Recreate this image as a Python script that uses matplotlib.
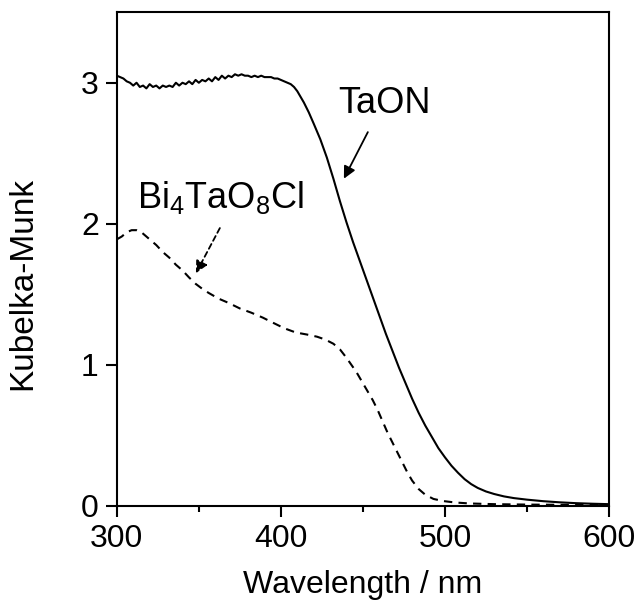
import matplotlib
matplotlib.use("Agg")
import matplotlib.pyplot as plt

plt.rcParams['font.family'] = ['Liberation Sans', 'DejaVu Sans']
plt.rcParams['mathtext.fontset'] = 'custom'
plt.rcParams['mathtext.rm'] = 'Liberation Sans'
plt.rcParams['mathtext.it'] = 'Liberation Sans'

# TaON (solid)
taon_wl = [300, 302, 304, 306, 308, 310, 312, 314, 316, 318, 320, 322, 324, 326, 328, 330,
           332, 334, 336, 338, 340, 342, 344, 346, 348, 350, 352, 354, 356, 358, 360, 362,
           364, 366, 368, 370, 372, 374, 376, 378, 380, 382, 384, 386, 388, 390, 392, 394,
           396, 398, 400, 402, 404, 406, 408, 410, 412, 414, 417, 420, 424, 428, 432, 436,
           440, 444, 448, 452, 456, 460, 464, 468, 472, 476, 480, 484, 488, 492, 496, 500,
           504, 508, 512, 516, 520, 525, 530, 536, 542, 550, 560, 570, 580, 590, 600]
taon_km = [3.05, 3.04, 3.03, 3.01, 3.00, 2.98, 3.00, 2.97, 2.98, 2.96, 2.99, 2.97, 2.98, 2.96, 2.98, 2.97,
           2.98, 2.97, 3.00, 2.98, 3.00, 2.99, 3.01, 2.99, 3.02, 3.00, 3.02, 3.01, 3.03, 3.01, 3.04, 3.02,
           3.05, 3.03, 3.05, 3.04, 3.06, 3.05, 3.06, 3.05, 3.05, 3.04, 3.05, 3.04, 3.05, 3.04, 3.04, 3.04,
           3.03, 3.03, 3.02, 3.01, 3.00, 2.99, 2.97, 2.94, 2.90, 2.86, 2.79, 2.71, 2.60, 2.47, 2.32, 2.16,
           2.01, 1.87, 1.74, 1.61, 1.48, 1.35, 1.22, 1.10, 0.98, 0.87, 0.76, 0.66, 0.57, 0.49, 0.41, 0.345,
           0.285, 0.235, 0.19, 0.155, 0.128, 0.103, 0.085, 0.068, 0.056, 0.045, 0.034, 0.026, 0.02, 0.016, 0.013]

# Bi4TaO8Cl (dashed)
bi_wl = [300, 303, 306, 309, 312, 315, 318, 321, 324, 328, 332, 336, 340, 344, 348, 352, 356,
         362, 368, 375, 382, 389, 395, 402, 409, 416, 422, 427, 432, 436, 440, 443, 446, 449,
         452, 456, 459, 462, 465, 468, 471, 474, 477, 480, 484, 488, 493, 499, 506, 515, 530,
         550, 575, 600]
bi_km = [1.89, 1.91, 1.94, 1.955, 1.955, 1.94, 1.91, 1.88, 1.85, 1.80, 1.76, 1.71, 1.67, 1.62,
         1.575, 1.54, 1.51, 1.47, 1.44, 1.40, 1.37, 1.335, 1.30, 1.26, 1.23, 1.215, 1.20, 1.18,
         1.15, 1.11, 1.05, 1.00, 0.95, 0.89, 0.83, 0.75, 0.68, 0.60, 0.52, 0.45, 0.38, 0.31,
         0.24, 0.18, 0.12, 0.08, 0.05, 0.035, 0.025, 0.018, 0.013, 0.01, 0.008, 0.007]

x_ticks = [300, 400, 500, 600]
x_minor = [350, 450, 550]
y_ticks = [0, 1, 2, 3]

fig = plt.figure(figsize=(6.42, 6.10), dpi=100)
ax = fig.add_axes([0.182, 0.1705, 0.7666, 0.8095])

ax.plot(taon_wl, taon_km, color='black', lw=1.5)
ax.plot(bi_wl, bi_km, color='black', lw=1.5, linestyle=(0, (4, 3)))

ax.set_xlim(300, 600)
ax.set_ylim(0, 3.5)
ax.set_xticks(x_ticks)
ax.set_xticks(x_minor, minor=True)
ax.set_yticks(y_ticks)

for s in ax.spines.values():
    s.set_linewidth(1.5)
ax.tick_params(axis='both', which='major', direction='out', length=8, width=1.5,
               labelsize=23, pad=5)
ax.tick_params(axis='x', which='minor', direction='out', length=4.5, width=1.5)

ax.set_xlabel('Wavelength / nm', fontsize=23)
ax.set_ylabel('Kubelka-Munk', fontsize=24)
ax.yaxis.set_label_coords(-0.16, 0.45)
ax.xaxis.set_label_coords(0.5, -0.13)

ax.text(463, 2.85, 'TaON', fontsize=26, ha='center', va='center')
ax.annotate('', xy=(438.4, 2.32), xytext=(453, 2.65),
            arrowprops=dict(arrowstyle='-|>', color='black', lw=1.3,
                            mutation_scale=18, shrinkA=0, shrinkB=0))

ax.text(363.4, 2.19, r'Bi$_4$TaO$_8$Cl', fontsize=26, ha='center', va='center')
ax.annotate('', xy=(348.2, 1.65), xytext=(362.8, 1.97),
            arrowprops=dict(arrowstyle='-|>', color='black', lw=1.3,
                            linestyle=(0, (3, 2)),
                            mutation_scale=18, shrinkA=0, shrinkB=0))

fig.savefig('out.png', dpi=100)
